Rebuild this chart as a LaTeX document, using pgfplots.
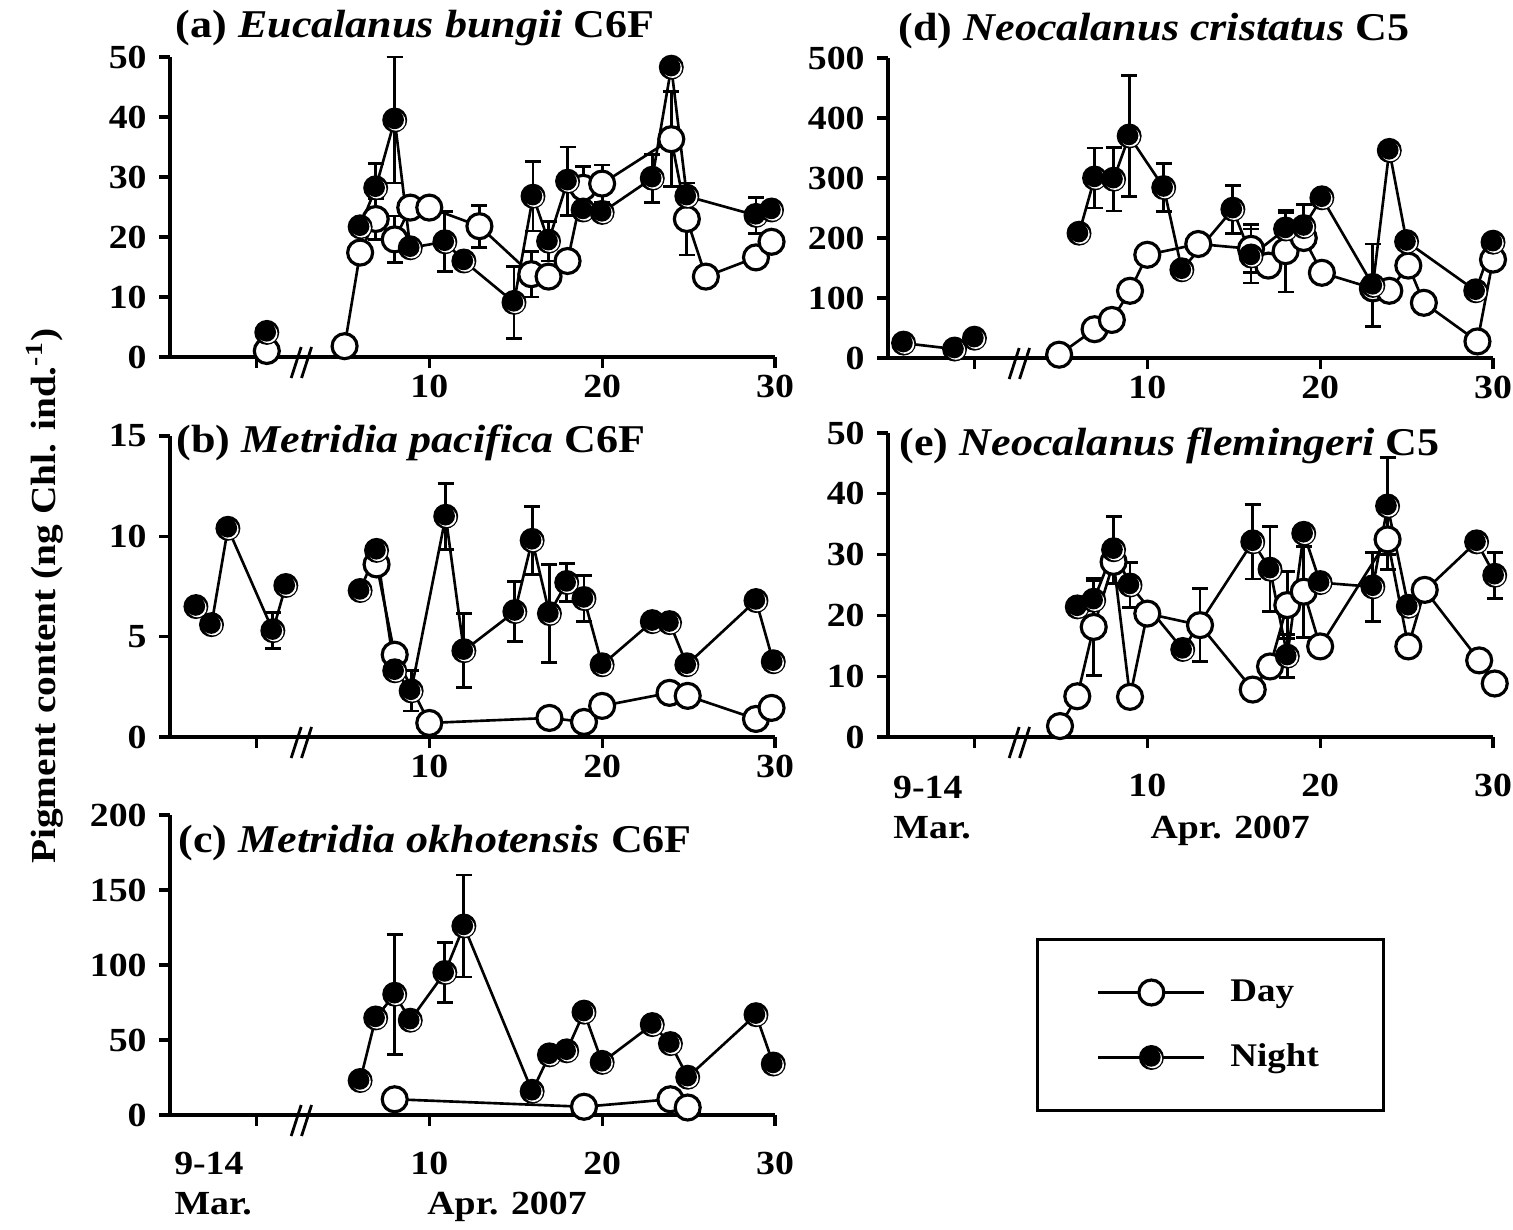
\documentclass[border=0pt]{standalone}
\usepackage{pgfplots}
\pgfplotsset{compat=1.18}
\usepackage{fontspec}
\setmainfont{Liberation Serif}[FakeStretch=1.12]

\newcommand\tck{\fontsize{9.6}{11}\selectfont\bfseries}
\newcommand\ttl{\fontsize{11.2}{13}\selectfont\bfseries}
\newcommand\leg{\fontsize{9.4}{11}\selectfont\bfseries}
\newcommand\ylab{\fontsize{10}{12}\selectfont\bfseries}

% filled marker with the small white rim of the original
\pgfdeclareplotmark{ball}{%
  \pgfpathcircle{\pgfpointorigin}{\pgfplotmarksize}%
  \pgfsetfillcolor{black}\pgfusepathqfill
  \pgfpathcircle{\pgfpoint{0.1\pgfplotmarksize}{-0.1\pgfplotmarksize}}{0.76\pgfplotmarksize}%
  \pgfsetfillcolor{white}\pgfusepathqfill
  \pgfpathcircle{\pgfpoint{-0.02\pgfplotmarksize}{0.02\pgfplotmarksize}}{0.76\pgfplotmarksize}%
  \pgfsetfillcolor{black}\pgfusepathqfill
}

\tikzset{ptitle/.style={anchor=base west, font=\ttl, inner sep=0pt}}

\pgfplotsset{
  panel/.style={
    scale only axis, width=6.05cm, height=3cm,
    axis lines*=left, axis line style={line width=0.9pt},
    xmin=-5, xmax=30, ymin=0,
    xtick={0,10,20,30}, xticklabels={,10,20,30},
    tick align=outside, major tick length=0.11cm,
    tick style={line width=0.9pt, black},
    tick label style={font=\tck},
    /pgf/number format/assume math mode=true,
    clip=false, unbounded coords=jump,
  },
  highpanel/.style={xticklabel style={yshift=0.05cm}},
  lowpanel/.style={xticklabel style={yshift=-0.14cm}},
  day/.style={black, line width=0.75pt, mark=*, mark size=1.25mm,
    mark options={fill=white, draw=black, line width=0.9pt}},
  night/.style={black, line width=0.75pt, mark=ball, mark size=1.25mm},
  eb/.style={/pgfplots/error bars/y dir=both, /pgfplots/error bars/y explicit,
    /pgfplots/error bars/error bar style={line width=0.8pt, black},
    /pgfplots/error bars/error mark options={rotate=90, mark size=0.8mm, line width=0.8pt, black}},
}

\newcommand\brk{%
  \draw[line width=0.8pt] (axis cs:2.3,0) ++(-0.05cm,-0.21cm) -- ++(0.1cm,0.31cm);
  \draw[line width=0.8pt] (axis cs:2.9,0) ++(-0.05cm,-0.21cm) -- ++(0.1cm,0.31cm);
}

\begin{document}
\begin{tikzpicture}
\useasboundingbox (0,0) rectangle (15.13,12.29);

\node[rotate=90, font=\ylab] at (0.45,6.33) {Pigment content (ng Chl. ind.\textsuperscript{-1})};

% (a)
\begin{axis}[panel, highpanel, at={(1.70cm,8.72cm)}, anchor=south west, ymax=50, ytick={0,10,...,50}]
\addplot[day, eb] coordinates {
  (0.6,1.0) (2.5,nan) (5.1,1.8) (6.0,17.4) (6.9,23.0) +- (0,3.4) (8.0,19.6) +- (0,3.9)
  (8.9,24.9) (10.0,24.9) (12.9,21.8) +- (0,3.5) (15.9,13.8) +- (0,3.8) (16.9,13.4)
  (18.0,16.0) (18.9,28.2) +- (0,3.6) (20.0,28.9) +- (0,3.1) (24.0,36.3) +- (0,7.9)
  (24.9,23.0) +- (0,6.0) (26.0,13.4) (28.9,16.6) (29.8,19.2)
};
\addplot[night, eb] coordinates {
  (0.6,4.1) (2.5,nan) (6.0,21.7) (6.9,28.2) +- (0,4.1) (8.0,39.5) +- (0,10.5)
  (8.9,18.2) (10.9,19.2) +- (0,5.0) (12.0,16.0) (14.9,9.1) +- (0,6.0)
  (16.0,26.8) +- (0,5.8) (16.9,19.3) +- (0,3.3) (18.0,29.3) +- (0,5.7) (18.9,24.5)
  (20.0,24.1) (22.9,29.8) +- (0,4.0) (24.0,48.3) (24.9,26.8) (28.9,23.6) +- (0,3.0) (29.8,24.5)
};
\brk
\node[ptitle] at (rel axis cs:0,1) [xshift=0.05cm, yshift=0.19cm]
  {(a) \textit{Eucalanus bungii} C6F};
\end{axis}

% (b)
\begin{axis}[panel, highpanel, at={(1.70cm,4.92cm)}, anchor=south west, height=3.01cm, ymax=15, ytick={0,5,10,15}]
\addplot[day] coordinates {
  (6.95,8.6) (8.0,4.1) (10.0,0.7) (16.95,0.95) (18.95,0.75) (20.0,1.55)
  (23.9,2.2) (24.95,2.05) (28.9,0.9) (29.8,1.45)
};
\addplot[night, eb] coordinates {
  (-3.5,6.5) (-2.6,5.6) (-1.65,10.4) (0.95,5.3) +- (0,0.9) (1.7,7.55) (2.5,nan)
  (6.0,7.3) (6.95,9.3) (8.0,3.3) (8.95,2.3) +- (0,1.0) (10.95,11.0) +- (0,1.65)
  (12.0,4.3) +- (0,1.85) (14.95,6.25) +- (0,1.5) (15.95,9.8) +- (0,1.7)
  (16.95,6.15) +- (0,2.45) (17.95,7.7) +- (0,0.95) (18.95,6.9) +- (0,1.15)
  (20.0,3.6) (22.9,5.75) (23.9,5.7) (24.9,3.6) (28.9,6.8) (29.9,3.75)
};
\brk
\node[ptitle] at (rel axis cs:0,1) [xshift=0.06cm, yshift=-0.17cm]
  {(b) \textit{Metridia pacifica} C6F};
\end{axis}

% (c)
\begin{axis}[panel, lowpanel, at={(1.70cm,1.14cm)}, anchor=south west, ymax=200, ytick={0,50,...,200},
  legend cell align=left,
  legend style={draw=black, line width=0.9pt, at={(1.72,0.30)}, anchor=center,
    font=\leg, inner xsep=0.6cm, inner ysep=0.31cm, row sep=0.21cm,
    nodes={inner sep=0.5mm, text height=0.26cm, text depth=0.08cm},
    /tikz/every odd column/.append style={column sep=0.2cm}},
  legend image code/.code={\draw[mark repeat=2, mark phase=2, #1, line width=0.6pt]
    plot coordinates {(0cm,0cm) (0.53cm,0cm) (1.06cm,0cm)};}]
\addplot[day] coordinates {
  (8.0,10.5) (18.95,5.5) (23.95,10.5) (24.95,5.0)
};
\addlegendentry{Day}
\addplot[night, eb] coordinates {
  (6.0,23.0) (6.9,64.7) (8.0,80.5) +- (0,40) (8.9,63.2) (10.9,95) +- (0,20)
  (12.0,126) +- (0,34) (15.95,15.8) (16.95,40.1) (17.95,42.8) (18.95,68.6)
  (20.0,35.1) (22.9,60.3) (23.95,47.6) (24.95,25.2) (28.9,66.9) (29.9,34.0)
};
\addlegendentry{Night}
\brk
\node[ptitle] at (rel axis cs:0,1) [xshift=0.08cm, yshift=-0.37cm]
  {(c) \textit{Metridia okhotensis} C6F};
\node[font=\tck, anchor=base] at (axis cs:-2.75,0) [yshift=-0.59cm] {9-14};
\node[font=\tck, anchor=base] at (axis cs:-2.5,0) [yshift=-0.99cm] {Mar.};
\node[font=\tck, anchor=base] at (axis cs:14.5,0) [yshift=-0.99cm] {Apr. 2007};
\end{axis}

% (d)
\begin{axis}[panel, highpanel, at={(8.88cm,8.71cm)}, anchor=south west, ymax=500, ytick={0,100,...,500}]
\addplot[day, eb] coordinates {
  (4.9,5.5) (6.95,48) (7.95,63.4) (9.0,112) (10.0,172) (12.95,190) (16.0,182) +- (0,40)
  (17.0,154) (18.0,178) +- (0,68) (19.05,200) (20.1,142) (23.05,116) (24.0,112)
  (25.1,154) (26.0,92) (29.1,27.6) (30.0,164)
};
\addplot[night, eb] coordinates {
  (-4.1,24.8) (-1.15,14.9) (0.0,33) (2.5,nan) (6.05,208) (6.95,300) +- (0,50)
  (8.05,298) +- (0,53) (8.95,370) +- (0,101) (10.95,284) +- (0,40) (12.0,147)
  (14.95,248) +- (0,40) (16.0,170) +- (0,45) (18.0,215) +- (0,28) (19.05,219) +- (0,37)
  (20.1,267) (23.05,121) +- (0,69) (24.0,346) (25.0,194) (29.0,112) (30.0,193)
};
\brk
\node[ptitle] at (rel axis cs:0,1) [xshift=0.1cm, yshift=0.17cm]
  {(d) \textit{Neocalanus cristatus} C5};
\end{axis}

% (e)
\begin{axis}[panel, lowpanel, at={(8.88cm,4.92cm)}, anchor=south west, height=3.04cm, ymax=50, ytick={0,10,...,50}]
\addplot[day, eb] coordinates {
  (4.95,1.8) (5.95,6.7) (6.9,18.1) +- (0,8.0) (8.05,28.8) (9.0,6.6) (10.0,20.3)
  (13.05,18.4) +- (0,6.0) (16.1,7.8) (17.1,11.6) (18.1,21.7) +- (0,5.5)
  (19.05,23.9) +- (0,7.5) (20.0,14.9) (23.9,32.5) +- (0,5.0) (25.1,14.9)
  (26.05,24.2) (29.2,12.6) (30.1,8.8)
};
\addplot[night, eb] coordinates {
  (5.95,21.4) (6.9,22.5) +- (0,3.3) (8.05,30.8) +- (0,5.5) (9.0,25.0) +- (0,3.7)
  (12.05,14.4) (16.1,32.1) +- (0,6.1) (17.1,27.6) +- (0,7.0) (18.1,13.3) +- (0,3.5)
  (19.05,33.5) (20.0,25.4) (23.05,24.7) +- (0,5.7) (23.9,38.0) +- (0,8.0)
  (25.1,21.5) (29.05,32.1) (30.1,26.6) +- (0,3.8)
};
\brk
\node[ptitle] at (rel axis cs:0,1) [xshift=0.11cm, yshift=-0.22cm]
  {(e) \textit{Neocalanus flemingeri} C5};
\node[font=\tck, anchor=base] at (axis cs:-2.7,0) [yshift=-0.61cm] {9-14};
\node[font=\tck, anchor=base] at (axis cs:-2.45,0) [yshift=-1.01cm] {Mar.};
\node[font=\tck, anchor=base] at (axis cs:14.8,0) [yshift=-1.01cm] {Apr. 2007};
\end{axis}
\end{tikzpicture}
\end{document}
